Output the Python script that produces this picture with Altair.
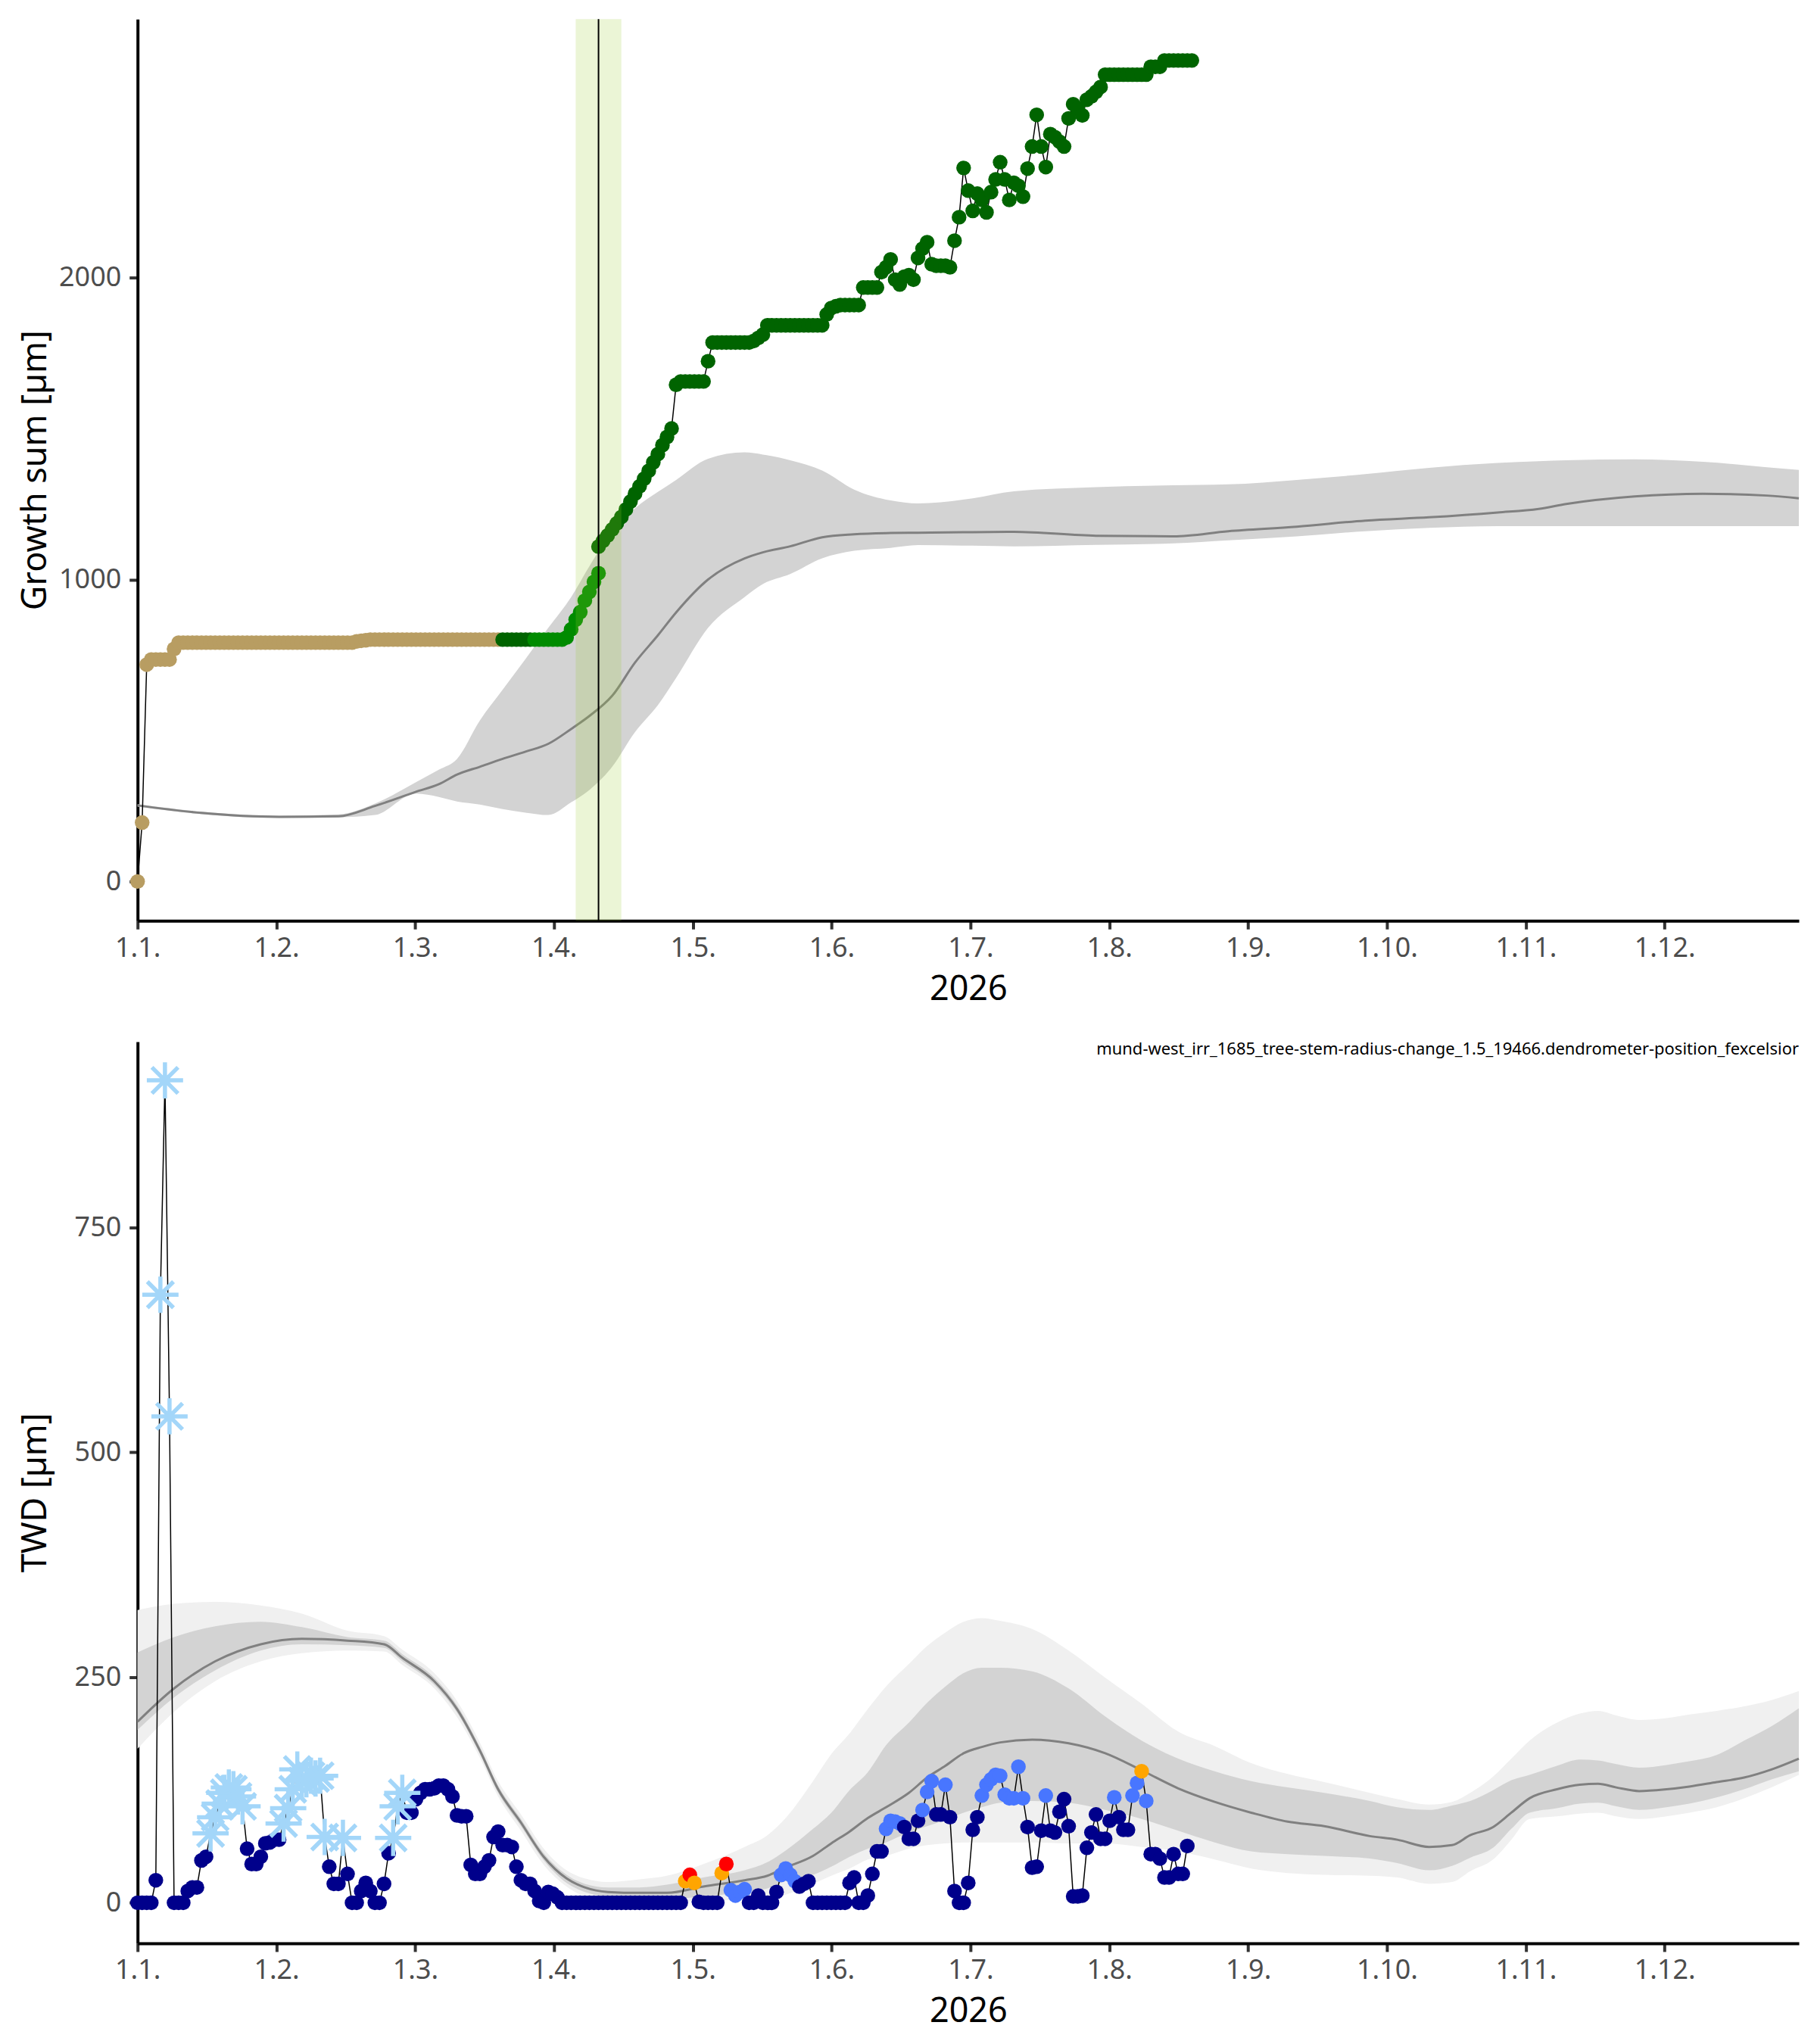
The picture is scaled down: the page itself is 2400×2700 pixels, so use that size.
import altair as alt
import pandas as pd

# ---------------- axis labels ----------------
MONTH_LABELS = ["1.1.", "1.2.", "1.3.", "1.4.", "1.5.", "1.6.", "1.7.", "1.8.",
                "1.9.", "1.10.", "1.11.", "1.12."]
TOP_TICKS = [0, 1000, 2000]
BOT_TICKS = [0, 250, 500, 750]
ANNOTATION = "mund-west_irr_1685_tree-stem-radius-change_1.5_19466.dendrometer-position_fexcelsior"

# ---------------- growth sum (top panel), daily values -------------
growth_tan = [0, 195, 718, 735, 735, 735, 735, 735, 770,
              791, 791, 791, 791, 791, 791, 791, 791, 791, 791,
              791, 791, 791, 791, 791, 791, 791, 791, 791, 791,
              791, 791, 791, 791, 791, 791, 791, 791, 791, 791,
              791, 791, 791, 791, 791, 791, 791, 791, 791,
              795, 797, 799,
              801, 801, 801, 801, 801, 801, 801, 801, 801, 801,
              801, 801, 801, 801, 801, 801, 801, 801, 801, 801,
              801, 801, 801, 801, 801, 801, 801, 801, 801]
growth_tan_start = 0
growth_dg1 = [801, 801, 801, 801, 801, 801, 801]
growth_dg1_start = 80
growth_g4 = [801, 801, 801, 801, 801, 801, 801, 808, 835, 867, 892, 930, 959, 992, 1021]
growth_g4_start = 87
growth_dg2 = [1109, 1128, 1146, 1166, 1186, 1207, 1232, 1258, 1284, 1309,
              1334, 1360, 1388, 1415, 1445, 1472, 1500, 1645, 1656, 1656,
              1656, 1656, 1656, 1656, 1723, 1785, 1785, 1785, 1785, 1785,
              1785, 1785, 1785, 1785, 1790, 1800, 1811, 1842, 1842, 1842,
              1842, 1842, 1842, 1842, 1842, 1842, 1842, 1842, 1842, 1842,
              1878, 1899, 1905, 1909, 1909, 1909, 1909, 1909, 1967, 1967,
              1967, 1967, 2018, 2034, 2060, 1993, 1977, 2003, 2008, 1993,
              2065, 2096, 2117, 2044, 2039, 2039, 2039, 2034, 2122, 2200,
              2363, 2288, 2221, 2278, 2257, 2216, 2283, 2325, 2382, 2325,
              2257, 2314, 2304, 2268, 2361, 2434, 2539, 2434, 2366, 2475,
              2465, 2450, 2434, 2527, 2574, 2560, 2537, 2589, 2600, 2615,
              2631, 2672, 2672, 2672, 2672, 2672, 2672, 2672, 2672, 2672,
              2672, 2698, 2698, 2698, 2719, 2719, 2719, 2719, 2719, 2719, 2719]
growth_dg2_start = 101

PHASE_COLORS = {"tan": "#B89D62", "dg1": "#006400", "g4": "#008B00", "dg2": "#006400"}

# growth reference band (smooth)
gband_day = [0, 14, 31, 44, 52, 61, 66, 70, 75, 80, 85, 90, 95, 99, 104, 109, 114, 118, 125, 133,
             137, 143, 150, 157, 165, 171, 183, 192, 210, 227, 239, 254, 269, 283, 298, 307, 313,
             328, 343, 357, 364]
gband_mean = [252, 227, 214, 216, 250, 297, 322, 354, 380, 406, 430, 456, 505, 548, 615, 725, 815,
              891, 1000, 1070, 1090, 1110, 1140, 1150, 1154, 1155, 1157, 1158, 1145, 1143, 1160,
              1175, 1195, 1206, 1222, 1234, 1250, 1275, 1284, 1278, 1269]
gband_lo = [248, 223, 210, 212, 220, 291, 280, 265, 255, 240, 228, 220, 262, 303, 380, 495, 584,
            674, 840, 942, 985, 1018, 1070, 1095, 1105, 1114, 1112, 1110, 1115, 1120, 1130, 1143,
            1160, 1171, 1177, 1177, 1177, 1177, 1177, 1177, 1177]
gband_hi = [256, 231, 218, 222, 258, 329, 370, 406, 533, 635, 737, 840, 942, 1044, 1159, 1236,
            1290, 1330, 1400, 1421, 1414, 1395, 1361, 1298, 1262, 1252, 1269, 1292, 1306, 1312,
            1315, 1330, 1349, 1370, 1386, 1392, 1395, 1398, 1390, 1372, 1363]

GROWTH_WINDOW = [96, 106]
GROWTH_ONSET = 101

# ---------------- TWD (bottom panel), daily values -----------------
twd_values = [0, 0, 0, 0, 25, 675, 913, 540, 0, 0,
              0, 13, 17, 17, 47, 51, 77, 95, 110, 122,
              128, 126, 118, 107, 60, 43, 43, 51, 66, 67,
              70, 70, 88, 105, 126, 148, 135, 137, 141, 138,
              141, 73, 40, 21, 21, 72, 32, 0, 0, 13,
              22, 13, 0, 0, 21, 55, 72, 107, 122, 100,
              100, 115, 122, 126, 126, 127, 130, 130, 126, 118,
              97, 96, 96, 42, 32, 32, 40, 47, 73, 79,
              64, 64, 62, 40, 25, 21, 21, 13, 2, 0,
              12, 10, 6, 0, 0, 0, 0, 0, 0, 0,
              0, 0, 0, 0, 0, 0, 0, 0, 0, 0,
              0, 0, 0, 0, 0, 0, 0, 0, 0, 0,
              24, 31, 22, 1, 0, 0, 0, 0, 33, 43,
              14, 8, 12, 15, 0, 0, 8, 0, 0, 0,
              12, 31, 38, 31, 24, 18, 21, 24, 0, 0,
              0, 0, 0, 0, 0, 0, 22, 28, 0, 0,
              8, 32, 57, 57, 82, 91, 90, 88, 84, 71,
              71, 91, 103, 123, 135, 98, 98, 131, 95, 13,
              0, 0, 22, 81, 95, 119, 131, 137, 142, 141,
              120, 116, 116, 151, 116, 84, 39, 40, 80, 119,
              80, 78, 101, 115, 85, 7, 7, 8, 61, 78,
              98, 71, 71, 91, 117, 95, 81, 81, 119, 133,
              146, 113, 54, 54, 49, 28, 28, 54, 32, 32, 63]
twd_class = (["n", "n", "n", "n", "n", "a", "a", "a", "n", "n"] +
             ["n", "n", "n", "n", "n", "n", "a", "a", "a", "a"] +
             ["a", "a", "a", "a", "n", "n", "n", "n", "n", "n"] +
             ["n", "n", "a", "a", "a", "a", "a", "a", "a", "a"] +
             ["a", "a", "n", "n", "n", "a", "n", "n", "n", "n"] +
             ["n", "n", "n", "n", "n", "n", "a", "a", "a", "n"] +
             ["n"] * 60 +
             ["o", "r", "o", "n", "n", "n", "n", "n", "o", "r"] +
             ["b", "b", "b", "b", "n", "n", "n", "n", "n", "n"] +
             ["n", "b", "b", "b", "b", "n", "n", "n", "n", "n"] +
             ["n"] * 10 +
             ["n", "n", "n", "n", "b", "b", "b", "b", "n", "n"] +
             ["n", "n", "b", "b", "b", "n", "n", "b", "n", "n"] +
             ["n", "n", "n", "n", "n", "b", "b", "b", "b", "b"] +
             ["b", "b", "b", "b", "b", "n", "n", "n", "n", "b"] +
             ["n"] * 10 +
             ["n", "n", "n", "n", "b", "n", "n", "n", "b", "b"] +
             ["o", "b", "n", "n", "n", "n", "n", "n", "n", "n", "n"])
CLASS_COLORS = {"n": "#00008B", "b": "#4876FF", "o": "#FFA500", "r": "#FF0000", "a": "#A3D6F9"}

tband_day = [0, 8, 17, 27, 36, 46, 54, 58, 65, 70, 75, 79, 84, 89, 94, 98, 103, 110, 116, 124,
             133, 138, 142, 148, 152, 156, 160, 164, 169, 173, 177, 181, 185, 189, 196, 204, 212,
             220, 228, 236, 244, 252, 260, 270, 276, 283, 288, 292, 297, 301, 305, 311, 316, 320,
             324, 329, 335, 340, 346, 352, 358, 364]
tband_light_lo = [171, 212, 246, 268, 277, 280, 279, 264, 238, 206, 161, 118, 80, 42, 18, 7, 3, 1,
                  1, 2, 4, 5, 9, 21, 30, 38, 48, 52, 60, 64, 66, 67, 67, 67, 67, 66, 66, 62, 57,
                  48, 38, 33, 31, 30, 28, 21, 23, 35, 48, 70, 93, 96, 99, 100, 96, 93, 96, 100,
                  106, 116, 128, 142]
tband_dark_lo = [192, 228, 258, 280, 287, 286, 283, 268, 242, 211, 165, 122, 85, 47, 22, 12, 7, 5,
                 4, 7, 12, 16, 24, 31, 40, 51, 60, 67, 78, 85, 92, 100, 106, 111, 113, 111, 103,
                 93, 80, 67, 57, 54, 52, 49, 44, 36, 41, 50, 61, 82, 100, 105, 110, 111, 107, 103,
                 106, 110, 117, 126, 137, 146]
tband_mean = [201, 238, 268, 287, 293, 291, 287, 272, 246, 215, 169, 126, 89, 51, 27, 17, 12, 11,
              11, 18, 25, 30, 39, 52, 66, 79, 94, 106, 122, 139, 152, 166, 173, 178, 181, 177,
              166, 147, 127, 112, 100, 90, 85, 74, 70, 62, 64, 75, 84, 100, 116, 126, 131, 132,
              128, 124, 126, 129, 134, 139, 148, 160]
tband_dark_hi = [278, 295, 307, 312, 306, 295, 291, 276, 250, 219, 173, 130, 93, 55, 31, 21, 17,
                 17, 20, 28, 36, 45, 58, 82, 100, 125, 145, 175, 200, 222, 240, 255, 261, 261,
                 257, 238, 207, 180, 160, 146, 135, 128, 122, 113, 106, 103, 108, 113, 125, 136,
                 142, 152, 159, 158, 154, 150, 153, 157, 164, 180, 196, 216]
tband_light_hi = [325, 332, 334, 330, 321, 302, 296, 281, 255, 224, 178, 135, 98, 60, 36, 27, 23,
                  26, 30, 43, 62, 75, 94, 135, 165, 188, 215, 240, 265, 285, 300, 312, 316, 313,
                  304, 280, 250, 221, 190, 174, 155, 143, 134, 122, 115, 109, 112, 122, 140, 160,
                  180, 200, 210, 213, 208, 203, 205, 209, 213, 218, 225, 235]

# ---------------- build tables ----------------
rows = []
k = 0
for ph, start, vals in [("tan", growth_tan_start, growth_tan), ("dg1", growth_dg1_start, growth_dg1),
                        ("g4", growth_g4_start, growth_g4), ("dg2", growth_dg2_start, growth_dg2)]:
    for i, v in enumerate(vals):
        rows.append({"day": start + i, "value": v, "col": PHASE_COLORS[ph], "idx": k})
        k += 1
growth_df = pd.DataFrame(rows)
gband_df = pd.DataFrame({"day": gband_day, "lo": gband_lo, "mean": gband_mean, "hi": gband_hi})

assert len(twd_values) == len(twd_class)
twd_df = pd.DataFrame({"day": list(range(len(twd_values))), "value": twd_values, "cls": twd_class,
                       "col": [CLASS_COLORS[c] for c in twd_class]})
tband_df = pd.DataFrame({"day": tband_day, "llo": tband_light_lo, "dlo": tband_dark_lo,
                         "mean": tband_mean, "dhi": tband_dark_hi, "lhi": tband_light_hi})

# ---------------- layout constants ----------------
W, H = 2198, 1193
X_DOMAIN = [0, 364]
TOP_Y = [-130, 2856]
BOT_Y = [-45, 956]
FONT = "Noto Sans"
MONTH = 365 / 12
tick_vals = [i * MONTH for i in range(12)]
label_js = "[" + ",".join("'%s'" % s for s in MONTH_LABELS) + "]"
label_expr = "%s[round(datum.value / %f)]" % (label_js, MONTH)

xscale = alt.Scale(domain=X_DOMAIN, nice=False, zero=False)
xaxis = alt.Axis(values=tick_vals, labelExpr=label_expr, title="2026")


def X(field="day:Q"):
    return alt.X(field, scale=xscale, axis=xaxis)


def make_y(domain, ticks, title):
    sc = alt.Scale(domain=domain, nice=False, zero=False)
    ax = alt.Axis(values=ticks, title=title, format="d")

    def Y(field):
        return alt.Y(field, scale=sc, axis=ax)
    return Y


Yt = make_y(TOP_Y, TOP_TICKS, "Growth sum [µm]")
Yb = make_y(BOT_Y, BOT_TICKS, "TWD [µm]")

# ---------------- top panel ----------------
t_band = alt.Chart(gband_df).mark_area(color="#D3D3D3", interpolate="monotone").encode(
    x=X(), y=Yt("lo:Q"), y2="hi:Q")
t_mean = alt.Chart(gband_df).mark_line(color="#808080", strokeWidth=3, interpolate="monotone").encode(
    x=X(), y=Yt("mean:Q"))
t_path = alt.Chart(growth_df).mark_line(color="black", strokeWidth=1.5).encode(
    x=X(), y=Yt("value:Q"), order="idx:Q")
t_pts = alt.Chart(growth_df).mark_circle(size=380, opacity=1).encode(
    x=X(), y=Yt("value:Q"), color=alt.Color("col:N", scale=None), order="idx:Q")
t_win = alt.Chart(pd.DataFrame({"a": [GROWTH_WINDOW[0]], "b": [GROWTH_WINDOW[1]],
                                "ylo": [TOP_Y[0]], "yhi": [TOP_Y[1]]})).mark_rect(
    color="#9ACD32", opacity=0.2).encode(x=X("a:Q"), x2="b:Q", y=Yt("ylo:Q"), y2="yhi:Q")
t_rule = alt.Chart(pd.DataFrame({"d": [GROWTH_ONSET]})).mark_rule(color="black", strokeWidth=2).encode(
    x=X("d:Q"))

top = alt.layer(t_band, t_mean, t_path, t_pts, t_win, t_rule).properties(width=W, height=H)

# ---------------- bottom panel ----------------
STAR = "M-1,0L1,0M0,-1L0,1M-0.72,-0.72L0.72,0.72M-0.72,0.72L0.72,-0.72"
b_light = alt.Chart(tband_df).mark_area(color="#F0F0F0", interpolate="monotone").encode(
    x=X(), y=Yb("llo:Q"), y2="lhi:Q")
b_dark = alt.Chart(tband_df).mark_area(color="#D3D3D3", interpolate="monotone").encode(
    x=X(), y=Yb("dlo:Q"), y2="dhi:Q")
b_mean = alt.Chart(tband_df).mark_line(color="#808080", strokeWidth=3, interpolate="monotone").encode(
    x=X(), y=Yb("mean:Q"))
b_path = alt.Chart(twd_df).mark_line(color="black", strokeWidth=1.5).encode(
    x=X(), y=Yb("value:Q"), order="day:Q")
b_pts = alt.Chart(twd_df).transform_filter("datum.cls != 'a'").mark_circle(size=380, opacity=1).encode(
    x=X(), y=Yb("value:Q"), color=alt.Color("col:N", scale=None))
b_star = alt.Chart(twd_df).transform_filter("datum.cls == 'a'").mark_point(
    shape=STAR, filled=False, size=2300, strokeWidth=5.5, opacity=1).encode(
    x=X(), y=Yb("value:Q"), stroke=alt.Stroke("col:N", scale=None))
b_text = alt.Chart(pd.DataFrame({"d": [X_DOMAIN[1]], "v": [BOT_Y[1]], "t": [ANNOTATION]})).mark_text(
    align="right", baseline="top", fontSize=22, font=FONT, color="black").encode(
    x=X("d:Q"), y=Yb("v:Q"), text="t:N")

bottom = alt.layer(b_light, b_dark, b_mean, b_path, b_pts, b_star, b_text).properties(width=W, height=H)

chart = alt.vconcat(top, bottom, spacing=46).properties(
    padding={"left": 17, "top": 14, "right": 10, "bottom": 10}
).configure_view(stroke=None).configure_axis(
    grid=False, domainColor="black", domainWidth=4, tickColor="#333333", tickWidth=4, tickSize=11,
    labelFont=FONT, labelFontSize=36, labelColor="#4D4D4D",
    titleFont=FONT, titleFontSize=45, titleColor="black", titleFontWeight="normal"
).configure_axisX(labelPadding=8, titlePadding=14, labelFlush=False
).configure_axisY(labelPadding=11, titlePadding=7, minExtent=105, maxExtent=105)

chart.save("out.html", embed_options={"renderer": "svg", "actions": False})
